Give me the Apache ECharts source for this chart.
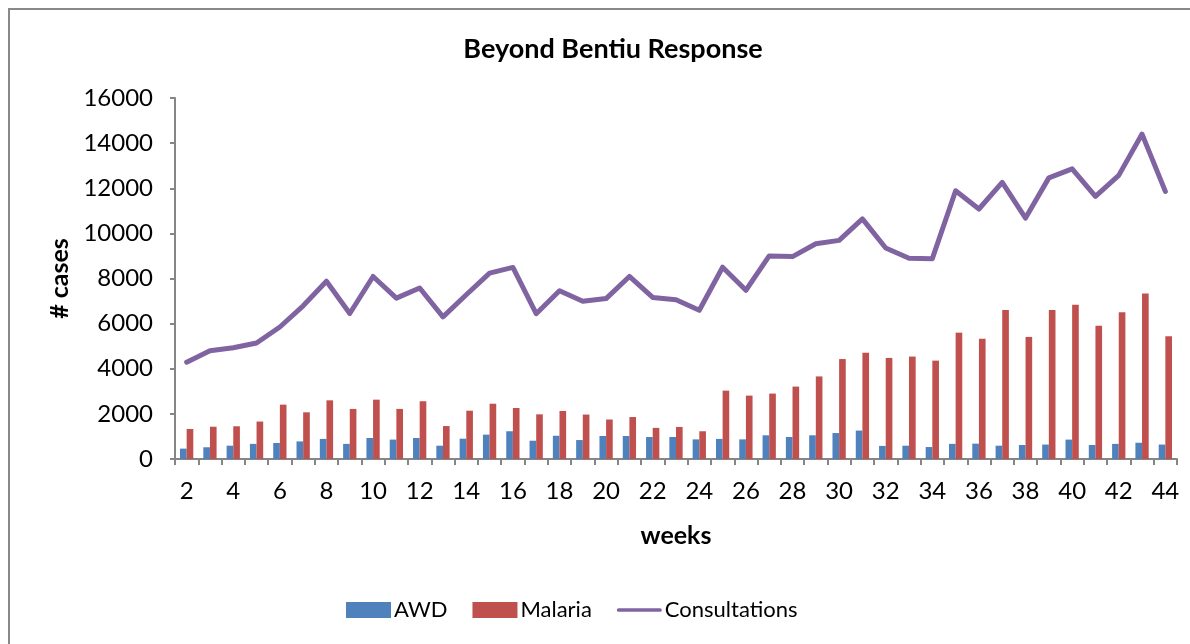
<!DOCTYPE html>
<html>
<head>
<meta charset="utf-8">
<script src="https://cdn.jsdelivr.net/npm/echarts@6/dist/echarts.min.js"></script>
<style>
  html, body { margin: 0; padding: 0; background: #fff; }
  #chart { width: 1190px; height: 644px; }
</style>
</head>
<body>
<div id="chart"></div>
<script>
// weeks 2..44
var weeks = ['2','3','4','5','6','7','8','9','10','11','12','13','14','15','16','17','18','19','20','21','22','23',
  '24','25','26','27','28','29','30','31','32','33','34','35','36','37','38','39','40','41','42','43','44'];

var awd = [460, 520, 590, 670, 710, 780, 890, 670, 930, 860, 930, 590, 900, 1080, 1230, 810, 1030, 840, 1020, 1020, 975, 975,
  870, 890, 870, 1050, 975, 1050, 1150, 1260, 580, 590, 530, 670, 680, 590, 620, 640, 860, 620, 670, 720, 640];

var malaria = [1330, 1430, 1450, 1660, 2410, 2070, 2600, 2220, 2630, 2220, 2560, 1460, 2140, 2450, 2260, 1980, 2130, 1970, 1750, 1860, 1380, 1420,
  1230, 3030, 2810, 2900, 3210, 3660, 4430, 4710, 4480, 4540, 4360, 5600, 5330, 6600, 5410, 6600, 6840, 5910, 6500, 7340, 5440];

var consultations = [4290, 4800, 4930, 5140, 5850, 6790, 7880, 6450, 8090, 7130, 7580, 6300, 7280, 8240, 8490, 6440, 7460, 6990, 7110, 8090, 7160, 7060,
  6590, 8500, 7480, 9000, 8970, 9540, 9690, 10640, 9350, 8900, 8880, 11890, 11080, 12260, 10680, 12460, 12860, 11640, 12570, 14400, 11860];

var yTicks = { min: 0, max: 16000, interval: 2000 };

var font = 'Lato, "Open Sans", sans-serif';
var axisColor = '#868686';

var option = {
  animation: false,
  backgroundColor: '#fff',
  textStyle: { fontFamily: font },
  title: {
    text: 'Beyond Bentiu Response',
    left: 608,
    textAlign: 'center',
    top: 31,
    textStyle: { fontFamily: font, fontSize: 27, fontWeight: 'bold', color: '#000' }
  },
  graphic: [{
    type: 'rect',
    shape: { x: 9, y: 9, width: 1200, height: 700 },
    style: { fill: 'none', stroke: '#898989', lineWidth: 2 },
    silent: true
  }],
  legend: {
    left: 341,
    top: 594,
    itemWidth: 45,
    itemHeight: 16,
    itemGap: 25,
    textStyle: { fontFamily: font, fontSize: 22, color: '#000', padding: [0, 0, 0, -2] },
    data: [
      { name: 'AWD', icon: 'rect' },
      { name: 'Malaria', icon: 'rect' },
      { name: 'Consultations', icon: 'path://M2,0 H47 A2,2 0 0 1 47,4 H2 A2,2 0 0 1 2,0 Z' }
    ]
  },
  grid: {
    left: 175,
    right: 13,
    top: 98,
    bottom: 185
  },
  xAxis: {
    type: 'category',
    data: weeks,
    name: 'weeks',
    nameLocation: 'middle',
    nameGap: 64,
    nameTextStyle: { fontFamily: font, fontSize: 25, fontWeight: 'bold', color: '#000' },
    axisLine: { lineStyle: { color: axisColor, width: 2 } },
    axisTick: { show: true, interval: 0, length: 6, lineStyle: { color: axisColor, width: 2 } },
    axisLabel: { interval: 1, margin: 20, fontFamily: font, fontSize: 24, color: '#000' },
    splitLine: { show: false }
  },
  yAxis: {
    type: 'value',
    min: yTicks.min,
    max: yTicks.max,
    interval: yTicks.interval,
    name: '# cases',
    nameLocation: 'middle',
    nameGap: 102,
    nameRotate: 90,
    nameTextStyle: { fontFamily: font, fontSize: 25, fontWeight: 'bold', color: '#000' },
    axisLine: { show: true, lineStyle: { color: axisColor, width: 2 } },
    axisTick: { show: true, length: 5, lineStyle: { color: axisColor, width: 2 } },
    axisLabel: {
      margin: 22, fontFamily: font, fontSize: 24, color: '#000',
      formatter: function(v) { return String(v); }
    },
    splitLine: { show: false }
  },
  series: [
    {
      name: 'AWD',
      type: 'bar',
      data: awd,
      barGap: '0%',
      barCategoryGap: '43%',
      itemStyle: { color: '#4F81BD' }
    },
    {
      name: 'Malaria',
      type: 'bar',
      data: malaria,
      barGap: '0%',
      barCategoryGap: '43%',
      itemStyle: { color: '#C0504D' }
    },
    {
      name: 'Consultations',
      type: 'line',
      data: consultations,
      symbol: 'none',
      itemStyle: { color: '#8064A2' },
      lineStyle: { color: '#8064A2', width: 5, cap: 'round', join: 'round' }
    }
  ]
};

var myChart = echarts.init(document.getElementById('chart'));
myChart.setOption(option);
</script>
</body>
</html>
